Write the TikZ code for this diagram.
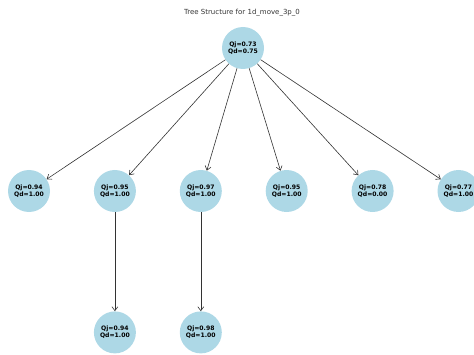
\documentclass[tikz,border=0pt]{standalone}
\usepackage{fontspec}
\setmainfont{DejaVu Sans}
\usepackage{tikz}
\usetikzlibrary{arrows.meta, positioning}
\definecolor{nodeblue}{HTML}{ADD8E6}
\definecolor{edgegray}{HTML}{333333}
\tikzstyle{valnode}=[circle,fill=nodeblue,draw=none,inner sep=0pt,
  minimum size=42pt,font=\fontsize{6.1}{7}\selectfont\bfseries,align=center]
\tikzstyle{arr}=[-{Straight Barb[length=4pt,width=6pt]},line width=0.6pt,color=edgegray]

\begin{document}
\begin{tikzpicture}[node distance=43.5pt and 43.5pt]
  \useasboundingbox (0pt,0pt) rectangle (474pt,354pt);
  \node[font=\fontsize{7}{8}\selectfont,text=edgegray] (title) at (242pt,341pt) {Tree Structure for 1d\_move\_3p\_0};
  \node[valnode] (root) at (243pt,306pt) {Qj=0.73\\Qd=0.75};
  \node[valnode] (c1) at (29pt,163pt) {Qj=0.94\\Qd=1.00};
  \node[valnode,right=of c1] (c2) {Qj=0.95\\Qd=1.00};
  \node[valnode,right=of c2] (c3) {Qj=0.97\\Qd=1.00};
  \node[valnode,right=of c3] (c4) {Qj=0.95\\Qd=1.00};
  \node[valnode,right=of c4] (c5) {Qj=0.78\\Qd=0.00};
  \node[valnode,right=of c5] (c6) {Qj=0.77\\Qd=1.00};
  \node[valnode,below=99pt of c2] (g1) {Qj=0.94\\Qd=1.00};
  \node[valnode,below=99pt of c3] (g2) {Qj=0.98\\Qd=1.00};
  \foreach \c in {c1,c2,c3,c4,c5,c6}
    \draw[arr] (root) -- (\c);
  \draw[arr] (c2) -- (g1);
  \draw[arr] (c3) -- (g2);
\end{tikzpicture}
\end{document}
